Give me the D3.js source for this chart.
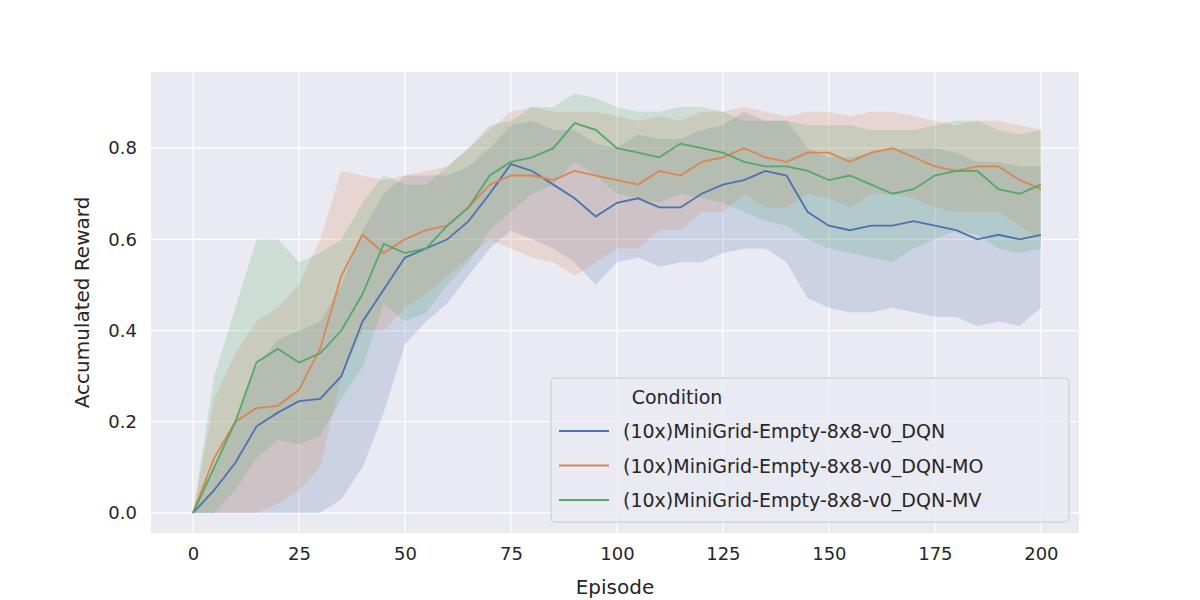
<!DOCTYPE html>
<html><head><meta charset="utf-8">
<script src="https://cdn.jsdelivr.net/npm/d3@7"></script>
<style>body{margin:0;background:#fff}</style>
</head><body>
<svg id="chart" width="1200" height="600"></svg>
<script>
const episodes = d3.range(0, 201, 5);
const seriesNames = ["(10x)MiniGrid-Empty-8x8-v0_DQN", "(10x)MiniGrid-Empty-8x8-v0_DQN-MO", "(10x)MiniGrid-Empty-8x8-v0_DQN-MV"];
const colors = ["#4c72b0", "#dd8452", "#55a868"];
const xTicks = [0, 25, 50, 75, 100, 125, 150, 175, 200];
const yTicks = [0, 0.2, 0.4, 0.6, 0.8];

const dqnMean = [0,0.05,0.11,0.19,0.22,0.245,0.25,0.30,0.42,0.49,0.56,0.58,0.60,0.64,0.70,0.765,0.75,0.72,0.69,0.65,0.68,0.69,0.67,0.67,0.70,0.72,0.73,0.75,0.74,0.66,0.63,0.62,0.63,0.63,0.64,0.63,0.62,0.60,0.61,0.60,0.61];
const dqnLow = [0,0,0,0,0,0,0,0.03,0.10,0.22,0.37,0.42,0.46,0.52,0.58,0.62,0.60,0.58,0.55,0.50,0.55,0.56,0.54,0.55,0.55,0.57,0.58,0.58,0.55,0.47,0.45,0.44,0.44,0.45,0.44,0.43,0.43,0.41,0.42,0.41,0.45];
const dqnHigh = [0,0.10,0.20,0.32,0.38,0.40,0.42,0.50,0.62,0.70,0.74,0.74,0.74,0.76,0.80,0.85,0.86,0.84,0.84,0.81,0.80,0.83,0.82,0.82,0.84,0.85,0.88,0.86,0.86,0.80,0.78,0.78,0.79,0.80,0.80,0.80,0.79,0.77,0.77,0.76,0.76];

const moMean = [0,0.12,0.20,0.23,0.235,0.27,0.36,0.52,0.61,0.57,0.60,0.62,0.63,0.67,0.72,0.74,0.74,0.73,0.75,0.74,0.73,0.72,0.75,0.74,0.77,0.78,0.80,0.78,0.77,0.79,0.79,0.77,0.79,0.80,0.78,0.76,0.75,0.76,0.76,0.73,0.71];
const moLow = [0,0,0,0,0.02,0.05,0.10,0.30,0.40,0.40,0.45,0.48,0.52,0.56,0.60,0.58,0.56,0.55,0.52,0.55,0.58,0.58,0.62,0.62,0.66,0.66,0.70,0.67,0.67,0.70,0.69,0.67,0.70,0.70,0.69,0.67,0.66,0.66,0.66,0.63,0.60];
const moHigh = [0,0.25,0.35,0.42,0.45,0.50,0.60,0.75,0.74,0.73,0.74,0.75,0.76,0.80,0.84,0.88,0.89,0.88,0.88,0.88,0.87,0.86,0.87,0.86,0.88,0.88,0.89,0.88,0.87,0.88,0.88,0.87,0.88,0.88,0.87,0.86,0.85,0.86,0.86,0.85,0.84];

const mvMean = [0,0.10,0.20,0.33,0.36,0.33,0.35,0.40,0.48,0.59,0.57,0.58,0.63,0.67,0.74,0.77,0.78,0.80,0.855,0.84,0.80,0.79,0.78,0.81,0.80,0.79,0.77,0.76,0.76,0.75,0.73,0.74,0.72,0.70,0.71,0.74,0.75,0.75,0.71,0.70,0.72];
const mvLow = [0,0,0.05,0.12,0.16,0.15,0.17,0.25,0.32,0.46,0.42,0.44,0.50,0.55,0.62,0.66,0.70,0.72,0.77,0.74,0.70,0.69,0.68,0.70,0.69,0.68,0.66,0.64,0.63,0.60,0.58,0.57,0.56,0.55,0.58,0.60,0.62,0.61,0.58,0.57,0.58];
const mvHigh = [0,0.30,0.45,0.60,0.60,0.55,0.57,0.60,0.68,0.74,0.72,0.72,0.76,0.80,0.85,0.86,0.89,0.89,0.92,0.91,0.89,0.88,0.88,0.89,0.89,0.88,0.86,0.86,0.86,0.85,0.85,0.85,0.84,0.84,0.84,0.85,0.86,0.86,0.84,0.83,0.84];

const series = [
  { mean: dqnMean, low: dqnLow, high: dqnHigh },
  { mean: moMean, low: moLow, high: moHigh },
  { mean: mvMean, low: mvLow, high: mvHigh },
];

const svg = d3.select("#chart");
const pLeft = 151, pRight = 1079, pTop = 72, pBottom = 533;
const font = "DejaVu Sans";

const x = d3.scaleLinear().domain([-9.9, 209]).range([pLeft, pRight]);
const y = d3.scaleLinear().domain([-0.044, 0.967]).range([pBottom, pTop]);

svg.append("rect").attr("x", pLeft).attr("y", pTop)
  .attr("width", pRight - pLeft).attr("height", pBottom - pTop).attr("fill", "#eaeaf2");

// Grid
svg.append("g").selectAll("line").data(xTicks).join("line")
  .attr("x1", d => x(d)).attr("x2", d => x(d)).attr("y1", pTop).attr("y2", pBottom)
  .attr("stroke", "#fff").attr("stroke-width", 1.2);
svg.append("g").selectAll("line").data(yTicks).join("line")
  .attr("y1", d => y(d)).attr("y2", d => y(d)).attr("x1", pLeft).attr("x2", pRight)
  .attr("stroke", "#fff").attr("stroke-width", 1.2);

// Bands and lines
const area = d3.area().x((d, i) => x(episodes[i])).y0(d => y(d[0])).y1(d => y(d[1]));
const line = d3.line().x((d, i) => x(episodes[i])).y(d => y(d));

series.forEach((s, k) => {
  svg.append("path").datum(s.low.map((v, i) => [v, s.high[i]]))
    .attr("d", area).attr("fill", colors[k]).attr("fill-opacity", 0.2);
});
series.forEach((s, k) => {
  svg.append("path").datum(s.mean).attr("d", line)
    .attr("fill", "none").attr("stroke", colors[k]).attr("stroke-width", 1.8);
});

// Axes
const xAxis = svg.append("g").attr("transform", `translate(0,${pBottom})`)
  .call(d3.axisBottom(x).tickValues(xTicks).tickSize(0).tickPadding(14));
const yAxis = svg.append("g").attr("transform", `translate(${pLeft},0)`)
  .call(d3.axisLeft(y).tickValues(yTicks).tickFormat(d3.format(".1f")).tickSize(0).tickPadding(14));
[xAxis, yAxis].forEach(a => {
  a.select(".domain").remove();
  a.selectAll("text").attr("font-family", font).attr("font-size", 18).attr("fill", "#262626");
});

svg.append("text").attr("x", (pLeft + pRight) / 2).attr("y", 594).attr("text-anchor", "middle")
  .attr("font-family", font).attr("font-size", 20).attr("fill", "#262626").text("Episode");
svg.append("text").attr("transform", `translate(89,${(pTop + pBottom) / 2}) rotate(-90)`)
  .attr("text-anchor", "middle").attr("font-family", font).attr("font-size", 20)
  .attr("fill", "#262626").text("Accumulated Reward");

// Legend
const lg = svg.append("g").attr("transform", "translate(551,378)");
lg.append("rect").attr("width", 518).attr("height", 144).attr("rx", 4)
  .attr("fill", "#eaeaf2").attr("fill-opacity", 0.8).attr("stroke", "#cccccc");
lg.append("text").attr("x", 126).attr("y", 26).attr("text-anchor", "middle")
  .attr("font-family", font).attr("font-size", 19).attr("fill", "#262626").text("Condition");
seriesNames.forEach((n, k) => {
  const yy = 53 + k * 34.5;
  lg.append("line").attr("x1", 8).attr("x2", 58).attr("y1", yy).attr("y2", yy)
    .attr("stroke", colors[k]).attr("stroke-width", 1.8);
  lg.append("text").attr("x", 72).attr("y", yy + 7).attr("font-family", font)
    .attr("font-size", 19).attr("fill", "#262626").text(n);
});
</script>
</body></html>
